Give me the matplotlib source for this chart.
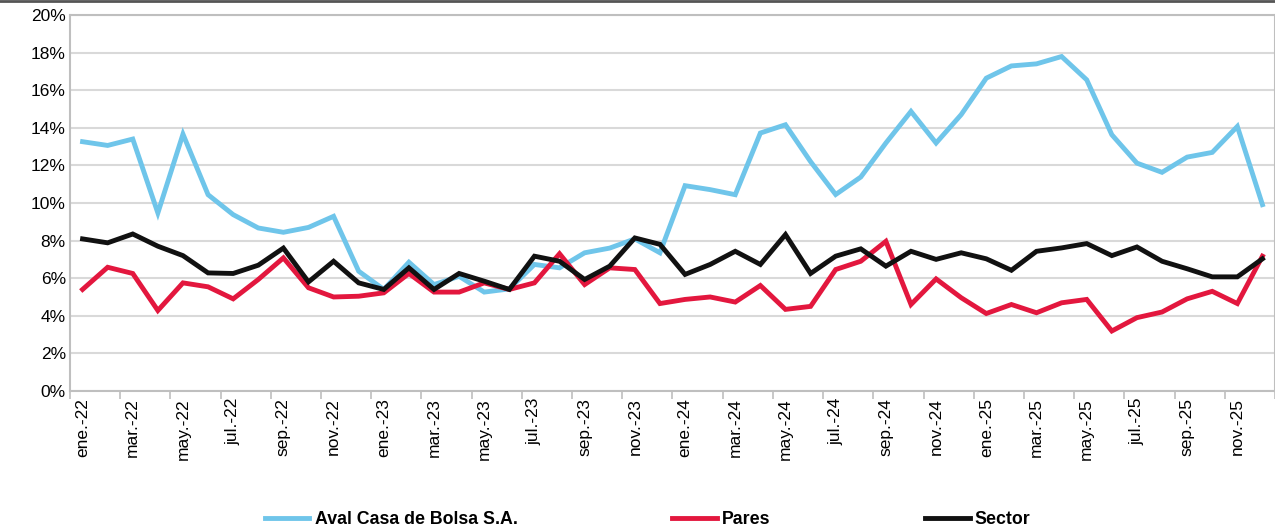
import numpy as np
import matplotlib.pyplot as plt
from matplotlib.lines import Line2D
from matplotlib.ticker import FuncFormatter

plt.rcParams['font.family'] = ['Liberation Sans', 'DejaVu Sans']

# meses ene-22 .. dic-25
meses = ['ene.', 'feb.', 'mar.', 'abr.', 'may.', 'jun.',
         'jul.', 'ago.', 'sep.', 'oct.', 'nov.', 'dic.']
anios = ['22', '23', '24', '25']
fechas = [m + '-' + a for a in anios for m in meses]

# valores en %
aval = [13.26, 13.06, 13.40, 9.47, 13.66, 10.44, 9.38, 8.67, 8.44, 8.70, 9.29, 6.37,
        5.40, 6.85, 5.66, 6.10, 5.26, 5.43, 6.73, 6.55, 7.35, 7.60, 8.09, 7.35,
        10.92, 10.71, 10.44, 13.72, 14.16, 12.20, 10.45, 11.38, 13.19, 14.87, 13.19, 14.70,
        16.64, 17.29, 17.40, 17.79, 16.55, 13.63, 12.12, 11.63, 12.44, 12.69, 14.07, 9.91]
pares = [5.40, 6.58, 6.25, 4.28, 5.75, 5.54, 4.90, 5.93, 7.08, 5.49, 5.00, 5.04,
         5.22, 6.25, 5.26, 5.26, 5.75, 5.40, 5.75, 7.30, 5.66, 6.55, 6.46, 4.65,
         4.87, 5.00, 4.73, 5.61, 4.34, 4.50, 6.46, 6.90, 7.96, 4.60, 5.96, 4.96,
         4.12, 4.60, 4.16, 4.69, 4.87, 3.19, 3.90, 4.20, 4.90, 5.30, 4.65, 7.17]
sector = [8.09, 7.88, 8.35, 7.70, 7.20, 6.28, 6.25, 6.69, 7.60, 5.80, 6.90, 5.75,
          5.40, 6.55, 5.40, 6.25, 5.84, 5.40, 7.17, 6.90, 5.93, 6.64, 8.14, 7.80,
          6.20, 6.73, 7.43, 6.73, 8.32, 6.25, 7.17, 7.56, 6.64, 7.43, 7.00, 7.35,
          7.03, 6.42, 7.43, 7.61, 7.84, 7.20, 7.66, 6.90, 6.50, 6.07, 6.07, 7.03]

fig = plt.figure(figsize=(12.75, 5.31), dpi=100)
ax = fig.add_axes([0.0549, 0.2637, 0.9451, 0.7081])

x = np.arange(len(fechas))
lw = 3.5
ax.plot(x, aval, color='#6FC5EA', lw=lw, solid_joinstyle='miter', label='Aval Casa de Bolsa S.A.', zorder=3)
ax.plot(x, pares, color='#E3173E', lw=lw, solid_joinstyle='miter', label='Pares', zorder=4)
ax.plot(x, sector, color='#111111', lw=lw, solid_joinstyle='miter', label='Sector', zorder=5)

ax.set_xlim(-0.5, len(fechas) - 0.5)
ax.set_ylim(0, 20)
ax.set_yticks(np.arange(0, 21, 2))
ax.yaxis.set_major_formatter(FuncFormatter(lambda v, p: '{:.0f}%'.format(v)))
ax.tick_params(axis='y', length=0, labelsize=12.5, pad=3)
ax.grid(axis='y', color='#D9D9D9', lw=1.5, zorder=0)

# marcas entre categorias, etiquetas cada dos meses
ax.set_xticks(np.arange(-0.5, len(fechas), 2))
ax.set_xticklabels([])
ax.set_xticks(x[::2], minor=True)
ax.set_xticklabels(fechas[::2], minor=True, rotation=90, fontsize=12.5)
ax.tick_params(axis='x', which='major', length=6, color='#BFBFBF', width=1.2)
ax.tick_params(axis='x', which='minor', length=0, pad=5)

for s in ['left', 'bottom', 'top', 'right']:
    ax.spines[s].set_color('#BFBFBF')
    ax.spines[s].set_linewidth(1.5)

ax.legend(loc='center', bbox_to_anchor=(0.508, 0.022), bbox_transform=fig.transFigure,
          ncol=3, frameon=False, handlelength=2.5, handletextpad=0.3, columnspacing=8.7,
          prop={'weight': 'bold', 'size': 12.8})

fig.add_artist(Line2D([0, 1], [0.998, 0.998], transform=fig.transFigure, color='#555555', lw=2))

fig.savefig('out.png', dpi=100)
